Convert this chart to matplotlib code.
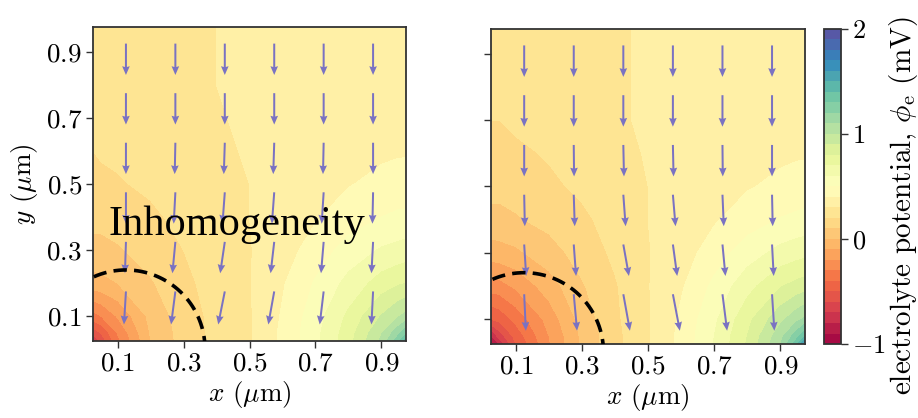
import numpy as np
import matplotlib
matplotlib.use("Agg")
import matplotlib.pyplot as plt

plt.rcParams.update({
    "font.family": "serif",
    "font.serif": ["cmr10"],
    "mathtext.fontset": "cm",
    "axes.formatter.use_mathtext": True,
    "axes.unicode_minus": True,
})

# sample grid (um)
xs = [0.025, 0.05, 0.1, 0.2, 0.3, 0.4, 0.5, 0.6, 0.7, 0.8, 0.9, 0.95, 0.975]
ys = [0.025, 0.05, 0.1, 0.2, 0.3, 0.4, 0.5, 0.6, 0.7, 0.8, 0.9, 0.975]

# electrolyte potential (mV), rows follow ys, columns follow xs
phi_inhom = [
    [-0.72, -0.57, -0.33, 0.00, 0.14, 0.23, 0.29, 0.42, 0.57, 0.76, 1.02, 1.26, 1.46],
    [-0.57, -0.49, -0.29, 0.01, 0.14, 0.23, 0.29, 0.42, 0.57, 0.75, 0.99, 1.16, 1.27],
    [-0.34, -0.30, -0.19, 0.03, 0.15, 0.23, 0.29, 0.41, 0.555, 0.72, 0.905, 0.99, 1.03],
    [-0.04, -0.03, 0.00, 0.09, 0.17, 0.25, 0.295, 0.39, 0.51, 0.63, 0.745, 0.785, 0.80],
    [0.07, 0.07, 0.09, 0.14, 0.20, 0.27, 0.295, 0.355, 0.445, 0.54, 0.61, 0.63, 0.64],
    [0.13, 0.13, 0.14, 0.18, 0.23, 0.28, 0.30, 0.33, 0.39, 0.45, 0.50, 0.517, 0.52],
    [0.17, 0.18, 0.19, 0.22, 0.25, 0.29, 0.30, 0.32, 0.35, 0.394, 0.426, 0.438, 0.44],
    [0.20, 0.21, 0.22, 0.24, 0.27, 0.29, 0.305, 0.32, 0.34, 0.362, 0.382, 0.389, 0.39],
    [0.22, 0.22, 0.23, 0.25, 0.28, 0.295, 0.31, 0.325, 0.342, 0.359, 0.373, 0.381, 0.38],
    [0.23, 0.24, 0.25, 0.26, 0.29, 0.30, 0.31, 0.33, 0.344, 0.36, 0.375, 0.382, 0.38],
    [0.24, 0.25, 0.25, 0.27, 0.29, 0.30, 0.31, 0.33, 0.347, 0.362, 0.376, 0.382, 0.38],
    [0.25, 0.25, 0.26, 0.27, 0.29, 0.30, 0.31, 0.335, 0.348, 0.362, 0.377, 0.382, 0.38],
]
phi_hom = [
    [-0.97, -0.79, -0.50, -0.21, 0.02, 0.17, 0.29, 0.426, 0.604, 0.81, 1.09, 1.36, 1.68],
    [-0.80, -0.65, -0.46, -0.20, 0.02, 0.17, 0.29, 0.427, 0.60, 0.80, 1.06, 1.26, 1.39],
    [-0.50, -0.47, -0.37, -0.16, 0.04, 0.18, 0.29, 0.419, 0.58, 0.769, 0.97, 1.07, 1.12],
    [-0.25, -0.24, -0.18, -0.05, 0.09, 0.19, 0.295, 0.387, 0.524, 0.663, 0.791, 0.833, 0.85],
    [-0.05, -0.04, -0.02, 0.06, 0.14, 0.22, 0.295, 0.354, 0.448, 0.551, 0.632, 0.659, 0.67],
    [0.07, 0.07, 0.09, 0.13, 0.18, 0.24, 0.30, 0.329, 0.389, 0.452, 0.505, 0.522, 0.53],
    [0.13, 0.13, 0.14, 0.18, 0.22, 0.26, 0.30, 0.317, 0.351, 0.391, 0.424, 0.435, 0.44],
    [0.17, 0.17, 0.18, 0.21, 0.24, 0.28, 0.305, 0.318, 0.341, 0.361, 0.38, 0.389, 0.39],
    [0.20, 0.20, 0.22, 0.24, 0.26, 0.29, 0.31, 0.323, 0.339, 0.357, 0.373, 0.38, 0.38],
    [0.22, 0.22, 0.23, 0.25, 0.27, 0.29, 0.31, 0.324, 0.34, 0.355, 0.37, 0.376, 0.375],
    [0.23, 0.23, 0.24, 0.26, 0.28, 0.29, 0.31, 0.327, 0.341, 0.356, 0.37, 0.376, 0.375],
    [0.24, 0.24, 0.25, 0.27, 0.28, 0.29, 0.31, 0.328, 0.342, 0.357, 0.37, 0.376, 0.375],
]

# current arrows: tail positions and components, rows top -> bottom
arrow_x = [0.125, 0.275, 0.425, 0.575, 0.725, 0.875]
arrow_y = [0.925, 0.775, 0.625, 0.475, 0.325, 0.175]
u_inhom = [
    [0, 0, 0, 0, 0, 0],
    [0, 0, 0, 0, 0, 0],
    [0, -0.002, -0.003, -0.003, -0.002, 0],
    [0, -0.005, -0.007, -0.007, -0.006, -0.002],
    [-0.003, -0.009, -0.014, -0.011, -0.008, -0.005],
    [-0.006, -0.013, -0.020, -0.018, -0.012, -0.005],
]
v_inhom = [-0.095, -0.095, -0.095, -0.095, -0.095, -0.10]
u_hom = [
    [0, 0, 0, 0, 0, 0],
    [0, 0, 0, 0, 0, 0],
    [0, 0.001, 0.002, 0.002, 0.001, 0],
    [0.002, 0.003, 0.007, 0.008, 0.004, 0.002],
    [0.006, 0.007, 0.017, 0.013, 0.009, 0.005],
    [0.005, 0.010, 0.020, 0.021, 0.014, 0.007],
]
v_hom = [-0.095, -0.095, -0.095, -0.095, -0.095, -0.11]

ticks = [0.1, 0.3, 0.5, 0.7, 0.9]
cbar_ticks = [-1, 0, 1, 2]
levels = np.linspace(-1, 2, 31)

fig = plt.figure(figsize=(9.18, 4.18), dpi=100)
ax1 = fig.add_axes([0.1013, 0.1842, 0.341, 0.751])
ax2 = fig.add_axes([0.535, 0.177, 0.342, 0.754])
cax = fig.add_axes([0.8976, 0.177, 0.0185, 0.754])

X, Y = np.meshgrid(xs, ys)
AX, AY = np.meshgrid(arrow_x, arrow_y)
theta = np.linspace(0, np.pi, 200)

for ax, phi, u, v in [(ax1, phi_inhom, u_inhom, v_inhom),
                      (ax2, phi_hom, u_hom, v_hom)]:
    cs = ax.contourf(X, Y, np.array(phi), levels=levels, cmap="Spectral")
    V = np.repeat(np.array(v)[:, None], len(arrow_x), axis=1)
    ax.quiver(AX, AY, np.array(u), V, color="#7a72c2", angles="xy",
              scale_units="xy", scale=1, pivot="tail", units="dots",
              width=2.0, headwidth=3.8, headlength=4.4, headaxislength=4.0,
              zorder=3)
    # boundary of the inhomogeneous region
    ax.plot(0.125 + 0.24 * np.cos(theta), 0.24 * np.sin(theta), color="black",
            lw=2.6, dashes=(3.7, 2.0), zorder=4)
    ax.set_xlim(0.025, 0.975)
    ax.set_ylim(0.025, 0.975)
    ax.set_xticks(ticks)
    ax.set_yticks(ticks)
    ax.tick_params(labelsize=19.5, length=5, width=1.0, pad=3, color="#333333")
    for s in ax.spines.values():
        s.set_linewidth(1.3)
        s.set_color("#333333")
    ax.set_xlabel(r"$x$ ($\mu$m)", fontsize=19.5, labelpad=2)

ax1.set_ylabel(r"$y$ ($\mu$m)", fontsize=19.5, labelpad=4)
ax2.set_yticklabels([])
ax1.text(0.073, 0.345, "Inhomogeneity", family="Liberation Serif",
         fontsize=30.5, ha="left", va="baseline", zorder=5)

cb = fig.colorbar(cs, cax=cax, ticks=cbar_ticks)
cb.ax.tick_params(labelsize=19, length=5, width=1.0, pad=3, color="#333333")
cb.outline.set_linewidth(1.3)
cb.outline.set_edgecolor("#333333")
cb.set_label(r"electrolyte potential, $\phi_{\mathrm{e}}$ (mV)", fontsize=21)
cb.ax.yaxis.set_label_coords(3.7, 0.44)

fig.savefig("out.png", dpi=100)
